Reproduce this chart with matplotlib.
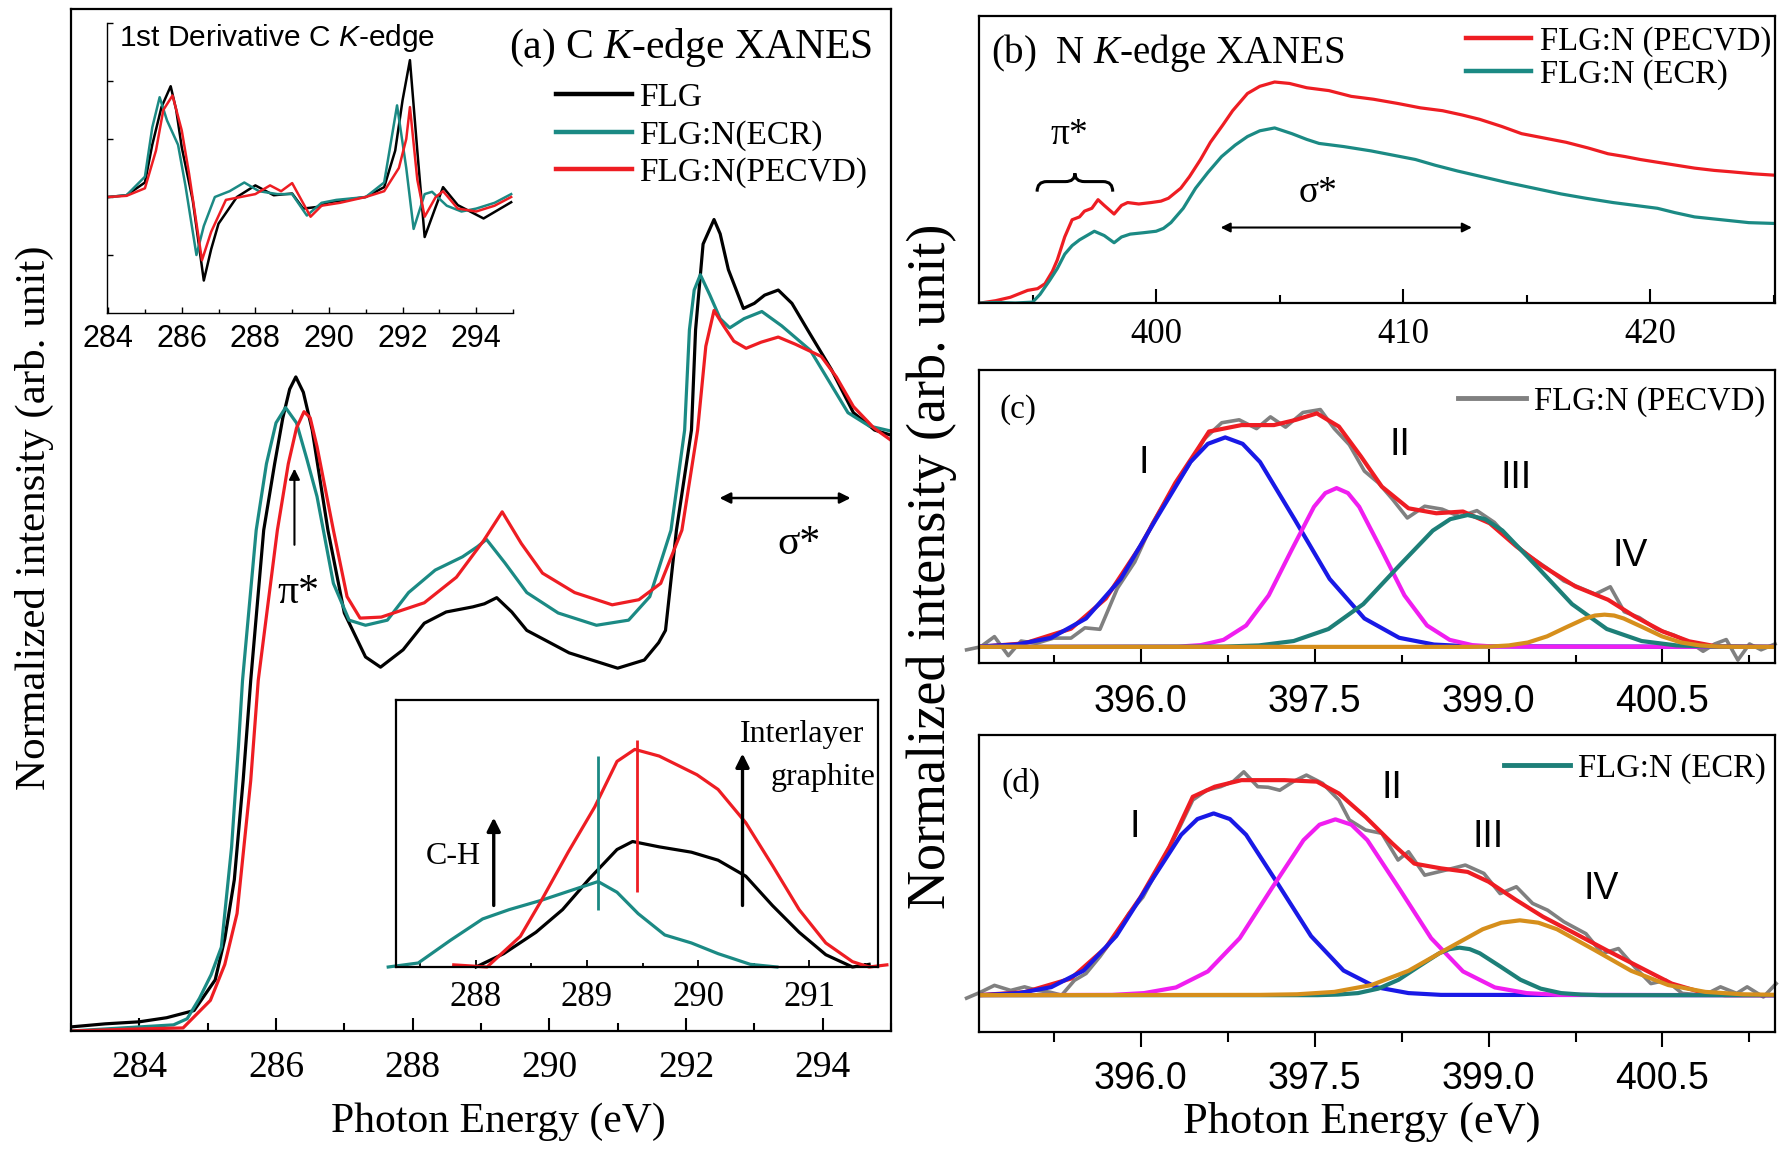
import matplotlib
matplotlib.use("Agg")
import matplotlib.pyplot as plt
from matplotlib.path import Path
from matplotlib.patches import PathPatch
from matplotlib.ticker import MultipleLocator, FormatStrFormatter

plt.rcParams['font.family'] = ['Liberation Serif', 'DejaVu Serif']
plt.rcParams['mathtext.fontset'] = 'custom'
plt.rcParams['mathtext.rm'] = 'Liberation Serif'
plt.rcParams['mathtext.it'] = 'Liberation Serif:italic'
plt.rcParams['mathtext.sf'] = 'Liberation Sans:italic'
plt.rcParams['axes.linewidth'] = 1.6

SANS = 'Liberation Sans'
BLACK, TEAL, RED = '#000000', '#1b8a84', '#ee1d23'
BLUE, MAGENTA, TEAL2, ORANGE, GRAY = '#1919e6', '#f01ef0', '#1d7f78', '#d68f1c', '#808080'

# ---------------- (a) C K-edge XANES ----------------
flg_x = [283.0, 283.5, 284.0, 284.4, 284.8, 285.11, 285.25, 285.39, 285.52, 285.63, 285.82, 285.98,
         286.1, 286.2, 286.29, 286.4, 286.53, 286.76, 287.0, 287.31, 287.53, 287.86, 288.17, 288.49,
         288.88, 289.05, 289.23, 289.45, 289.67, 290.29, 291.0, 291.39, 291.6, 291.7, 291.86, 292.08,
         292.14, 292.25, 292.41, 292.5, 292.62, 292.84, 293.0, 293.15, 293.35, 293.55, 293.78, 294.13,
         294.45, 294.76, 295.0]
flg_y = [0.004, 0.007, 0.009, 0.013, 0.02, 0.05, 0.09, 0.148, 0.246, 0.343, 0.49, 0.555,
         0.6, 0.628, 0.64, 0.625, 0.588, 0.49, 0.409, 0.366, 0.356, 0.373, 0.399, 0.41,
         0.415, 0.418, 0.424, 0.41, 0.392, 0.37, 0.355, 0.363, 0.38, 0.392, 0.49, 0.588,
         0.686, 0.77, 0.794, 0.78, 0.745, 0.707, 0.712, 0.72, 0.725, 0.712, 0.686, 0.647,
         0.605, 0.588, 0.583]
ecr_x = [283.0, 283.5, 284.0, 284.5, 284.7, 284.88, 285.05, 285.2, 285.35, 285.45, 285.51, 285.71,
         285.86, 286.0, 286.14, 286.3, 286.45, 286.6, 286.84, 287.07, 287.31, 287.63, 287.94, 288.33,
         288.73, 288.95, 289.08, 289.35, 289.67, 290.13, 290.69, 291.16, 291.47, 291.78, 291.98, 292.05,
         292.12, 292.21, 292.35, 292.5, 292.64, 292.85, 293.11, 293.4, 293.82, 294.1, 294.37, 294.68,
         295.0]
ecr_y = [0.0, 0.002, 0.004, 0.006, 0.012, 0.032, 0.055, 0.082, 0.18, 0.278, 0.343, 0.49,
         0.555, 0.595, 0.61, 0.595, 0.56, 0.523, 0.438, 0.402, 0.397, 0.402, 0.429, 0.451,
         0.464, 0.474, 0.481, 0.458, 0.429, 0.409, 0.397, 0.402, 0.425, 0.49, 0.588, 0.686,
         0.725, 0.74, 0.72, 0.697, 0.688, 0.697, 0.704, 0.69, 0.666, 0.635, 0.605, 0.592,
         0.587]
pec_x = [283.0, 283.5, 284.0, 284.64, 285.04, 285.25, 285.43, 285.63, 285.74, 286.02, 286.18, 286.3,
         286.41, 286.5, 286.6, 286.84, 287.04, 287.23, 287.54, 288.17, 288.64, 289.04, 289.31, 289.59,
         289.9, 290.37, 290.92, 291.31, 291.63, 291.94, 292.17, 292.29, 292.41, 292.55, 292.7, 292.88,
         293.1, 293.35, 293.6, 293.98, 294.2, 294.45, 294.75, 295.0]
pec_y = [0.0, 0.001, 0.002, 0.003, 0.03, 0.065, 0.115, 0.245, 0.343, 0.49, 0.555, 0.59,
         0.606, 0.6, 0.572, 0.49, 0.425, 0.404, 0.405, 0.419, 0.444, 0.48, 0.508, 0.477,
         0.448, 0.429, 0.417, 0.422, 0.438, 0.49, 0.588, 0.67, 0.705, 0.69, 0.675, 0.668,
         0.674, 0.679, 0.672, 0.66, 0.64, 0.611, 0.59, 0.578]

# 1st derivative inset
d_flg_x = [284.0, 284.5, 285.0, 285.2, 285.45, 285.7, 285.85, 286.0, 286.3, 286.6, 286.8, 287.0,
           287.5, 288.0, 288.5, 289.0, 289.3, 289.7, 290.0, 291.0, 291.5, 291.8, 292.0, 292.2,
           292.4, 292.6, 292.9, 293.1, 293.5, 294.2, 294.95]
d_flg_y = [0.0, 0.03, 0.25, 0.9, 1.55, 1.91, 1.5, 0.86, -0.06, -1.44, -0.9, -0.46,
           0.0, 0.2, 0.03, 0.06, -0.2, -0.17, -0.09, 0.0, 0.17, 0.8, 1.67, 2.36,
           0.8, -0.69, -0.17, 0.17, -0.14, -0.37, -0.09]
d_ecr_x = [284.0, 284.5, 285.0, 285.2, 285.4, 285.6, 285.9, 286.1, 286.4, 286.6, 286.9, 287.3,
           287.7, 288.1, 288.6, 289.0, 289.4, 289.8, 290.2, 291.0, 291.5, 291.85, 292.1, 292.3,
           292.6, 292.8, 293.2, 293.6, 294.0, 294.5, 294.95]
d_ecr_y = [0.0, 0.03, 0.35, 1.2, 1.72, 1.32, 0.9, 0.2, -1.0, -0.5, 0.0, 0.1,
           0.25, 0.1, 0.05, 0.05, -0.32, -0.1, -0.05, 0.0, 0.25, 1.58, 0.5, -0.55,
           0.05, 0.09, -0.15, -0.25, -0.2, -0.1, 0.05]
d_pec_x = [284.0, 284.5, 285.0, 285.3, 285.5, 285.75, 286.0, 286.2, 286.55, 286.8, 287.2, 287.6,
           288.0, 288.4, 288.7, 289.0, 289.5, 289.8, 290.3, 291.0, 291.5, 291.9, 292.1, 292.2,
           292.4, 292.6, 292.9, 293.1, 293.5, 294.0, 294.5, 294.95]
d_pec_y = [0.0, 0.02, 0.15, 0.8, 1.5, 1.75, 1.15, 0.4, -1.09, -0.6, -0.05, 0.0,
           0.05, 0.2, 0.1, 0.24, -0.34, -0.15, -0.1, 0.0, 0.1, 0.5, 1.0, 1.55,
           0.3, -0.34, 0.0, 0.1, -0.2, -0.25, -0.15, 0.0]

# sigma* region inset
i_pec_x = [287.8, 288.1, 288.4, 288.59, 288.83, 289.07, 289.27, 289.43, 289.65, 289.99, 290.18, 290.43,
           290.67, 290.91, 291.15, 291.39, 291.54, 291.7]
i_pec_y = [0.008, 0.0, 0.115, 0.25, 0.43, 0.6, 0.77, 0.815, 0.79, 0.72, 0.665, 0.54,
           0.38, 0.215, 0.09, 0.02, 0.0, 0.008]
i_flg_x = [288.0, 288.25, 288.54, 288.78, 289.02, 289.27, 289.41, 289.65, 289.94, 290.18, 290.43, 290.67,
           290.91, 291.15, 291.39, 291.54]
i_flg_y = [0.0, 0.05, 0.13, 0.215, 0.33, 0.44, 0.47, 0.45, 0.43, 0.4, 0.34, 0.23,
           0.13, 0.046, 0.0, 0.01]
i_ecr_x = [287.21, 287.48, 287.77, 288.06, 288.3, 288.59, 288.88, 289.1, 289.27, 289.46, 289.7, 289.94,
           290.18, 290.47, 290.71]
i_ecr_y = [0.0, 0.015, 0.1, 0.18, 0.215, 0.25, 0.29, 0.32, 0.28, 0.2, 0.12, 0.09,
           0.05, 0.01, 0.0]

# ---------------- (b) N K-edge XANES ----------------
n_pec_x = [392.9, 393.5, 394.1, 394.8, 395.2, 395.5, 395.8, 396.0, 396.3, 396.6, 396.9, 397.1,
           397.4, 397.65, 397.9, 398.3, 398.6, 398.85, 399.3, 399.8, 400.2, 400.5, 401.0, 401.35,
           401.8, 402.2, 402.7, 403.1, 403.7, 404.2, 404.8, 405.4, 406.1, 407.0, 407.9, 408.8,
           409.8, 410.7, 411.6, 412.4, 413.1, 414.0, 414.8, 415.7, 416.6, 417.5, 418.3, 419.0,
           419.6, 420.7, 421.8, 422.6, 423.3, 424.2, 425.1]
n_pec_y = [0.0, 0.008, 0.02, 0.044, 0.05, 0.067, 0.11, 0.15, 0.23, 0.29, 0.30, 0.32,
           0.33, 0.36, 0.34, 0.31, 0.34, 0.35, 0.345, 0.35, 0.355, 0.365, 0.40, 0.44,
           0.50, 0.56, 0.62, 0.67, 0.73, 0.755, 0.77, 0.765, 0.75, 0.74, 0.72, 0.71,
           0.695, 0.68, 0.67, 0.655, 0.64, 0.615, 0.59, 0.575, 0.56, 0.54, 0.52, 0.51,
           0.50, 0.485, 0.47, 0.462, 0.457, 0.45, 0.445]
n_ecr_x = [392.9, 393.5, 394.3, 395.0, 395.3, 395.7, 396.0, 396.3, 396.6, 396.9, 397.2, 397.5,
           397.9, 398.3, 398.6, 398.95, 399.5, 400.0, 400.3, 400.6, 401.1, 401.6, 402.1, 402.65,
           403.2, 403.7, 404.2, 404.8, 405.5, 406.1, 406.6, 407.6, 408.7, 409.6, 410.5, 411.3,
           412.2, 413.2, 414.2, 415.3, 416.4, 417.4, 418.5, 419.4, 420.3, 421.0, 421.8, 422.9,
           424.0, 425.1]
n_ecr_y = [0.0, 0.002, 0.0, 0.003, 0.03, 0.08, 0.12, 0.17, 0.2, 0.22, 0.235, 0.25,
           0.235, 0.21, 0.23, 0.24, 0.245, 0.25, 0.26, 0.28, 0.33, 0.40, 0.455, 0.51,
           0.55, 0.58, 0.6, 0.61, 0.59, 0.57, 0.556, 0.545, 0.53, 0.515, 0.50, 0.48,
           0.46, 0.44, 0.42, 0.40, 0.38, 0.365, 0.35, 0.34, 0.33, 0.315, 0.30, 0.29,
           0.28, 0.277]

# ---------------- (c) FLG:N (PECVD) fit ----------------
c_dat_x = [394.5, 394.62, 394.74, 394.86, 394.97, 395.1, 395.25, 395.4, 395.52, 395.65, 395.8, 395.95,
           396.1, 396.25, 396.4, 396.55, 396.7, 396.85, 397.0, 397.12, 397.25, 397.4, 397.55, 397.67,
           397.8, 397.93, 398.05, 398.17, 398.3, 398.45, 398.6, 398.75, 398.9, 399.05, 399.2, 399.35,
           399.5, 399.65, 399.8, 399.92, 400.05, 400.17, 400.3, 400.45, 400.6, 400.75, 400.85, 400.95,
           401.05, 401.15, 401.25, 401.35, 401.47]
c_dat_y = [-0.01, 0.0, 0.035, -0.03, 0.02, 0.012, 0.03, 0.03, 0.065, 0.06, 0.2, 0.29,
           0.42, 0.52, 0.61, 0.71, 0.765, 0.775, 0.745, 0.785, 0.75, 0.8, 0.81, 0.745,
           0.69, 0.6, 0.56, 0.505, 0.44, 0.48, 0.47, 0.445, 0.465, 0.425, 0.36, 0.31,
           0.27, 0.225, 0.2, 0.18, 0.205, 0.12, 0.1, 0.06, 0.04, 0.012, -0.015, 0.01,
           0.025, -0.045, 0.01, -0.01, 0.01]
c_sum_x = [394.6, 395.0, 395.4, 395.7, 396.0, 396.3, 396.5, 396.59, 396.87, 397.15, 397.34, 397.52,
           397.71, 397.9, 398.08, 398.31, 398.55, 398.78, 399.01, 399.24, 399.47, 399.75, 400.03, 400.26,
           400.5, 400.73, 400.96, 401.47]
c_sum_y = [0.0, 0.012, 0.062, 0.165, 0.345, 0.56, 0.68, 0.735, 0.757, 0.757, 0.775, 0.797,
           0.752, 0.65, 0.547, 0.473, 0.456, 0.462, 0.422, 0.343, 0.275, 0.206, 0.161, 0.104,
           0.053, 0.019, 0.002, 0.0]
c1_x = [394.55, 394.63, 394.93, 395.23, 395.53, 395.83, 396.13, 396.43, 396.58, 396.73, 396.88, 397.03,
        397.33, 397.63, 397.93, 398.23, 398.53, 398.83, 401.5]
c1_y = [0.0, 0.002, 0.008, 0.031, 0.097, 0.232, 0.434, 0.631, 0.693, 0.715, 0.693, 0.631,
        0.434, 0.232, 0.097, 0.031, 0.008, 0.002, 0.0]
c2_x = [394.55, 396.325, 396.52, 396.715, 396.91, 397.105, 397.30, 397.495, 397.593, 397.69, 397.788, 397.885,
        398.08, 398.275, 398.47, 398.665, 398.86, 399.055, 401.5]
c2_y = [0.0, 0.001, 0.006, 0.024, 0.073, 0.176, 0.329, 0.478, 0.525, 0.542, 0.525, 0.478,
        0.329, 0.176, 0.073, 0.024, 0.006, 0.001, 0.0]
c3_x = [394.55, 396.72, 397.02, 397.32, 397.62, 397.92, 398.22, 398.52, 398.67, 398.82, 398.97, 399.12,
        399.42, 399.72, 400.02, 400.32, 400.62, 400.92, 401.5]
c3_y = [0.0, 0.001, 0.005, 0.02, 0.061, 0.146, 0.273, 0.397, 0.436, 0.45, 0.436, 0.397,
        0.273, 0.146, 0.061, 0.02, 0.005, 0.001, 0.0]
c4_x = [394.55, 398.845, 399.01, 399.175, 399.34, 399.505, 399.67, 399.835, 399.918, 400.0, 400.083, 400.165,
        400.33, 400.495, 400.66, 400.825, 400.99, 401.155, 401.5]
c4_y = [0.0, 0.0, 0.001, 0.005, 0.015, 0.036, 0.067, 0.097, 0.107, 0.11, 0.107, 0.097,
        0.067, 0.036, 0.015, 0.005, 0.001, 0.0, 0.0]

# ---------------- (d) FLG:N (ECR) fit ----------------
d_dat_x = [394.5, 394.62, 394.74, 394.88, 395.0, 395.11, 395.22, 395.32, 395.43, 395.53, 395.65, 395.78,
           395.9, 396.02, 396.13, 396.22, 396.33, 396.45, 396.57, 396.69, 396.8, 396.89, 397.01, 397.1,
           397.2, 397.32, 397.43, 397.57, 397.71, 397.8, 397.94, 398.08, 398.22, 398.31, 398.45, 398.63,
           398.8, 398.96, 399.1, 399.24, 399.38, 399.51, 399.65, 399.84, 399.98, 400.12, 400.26, 400.4,
           400.53, 400.67, 400.86, 401.0, 401.14, 401.23, 401.37, 401.48]
d_dat_y = [-0.01, 0.01, 0.033, 0.016, 0.028, 0.016, 0.01, 0.0, 0.05, 0.073, 0.13, 0.2,
           0.275, 0.33, 0.41, 0.477, 0.56, 0.657, 0.69, 0.702, 0.72, 0.752, 0.702, 0.7,
           0.69, 0.72, 0.741, 0.713, 0.657, 0.59, 0.556, 0.545, 0.455, 0.483, 0.404, 0.421,
           0.438, 0.41, 0.342, 0.365, 0.309, 0.286, 0.247, 0.207, 0.14, 0.157, 0.095, 0.039,
           0.05, 0.006, 0.0, 0.028, 0.006, 0.028, -0.006, 0.039]
d_sum_x = [394.6, 395.0, 395.4, 395.7, 396.0, 396.25, 396.45, 396.64, 396.87, 397.24, 397.52, 397.71,
           397.94, 398.17, 398.36, 398.59, 398.82, 399.0, 399.24, 399.47, 399.75, 400.02, 400.3, 400.58,
           400.86, 401.04, 401.47]
d_sum_y = [0.0, 0.01, 0.056, 0.16, 0.33, 0.5, 0.668, 0.702, 0.724, 0.724, 0.719, 0.679,
           0.6, 0.511, 0.443, 0.427, 0.415, 0.382, 0.32, 0.264, 0.207, 0.151, 0.095, 0.039,
           0.007, 0.0, 0.0]
d1_x = [394.55, 394.67, 394.95, 395.23, 395.51, 395.79, 396.07, 396.35, 396.49, 396.63, 396.77, 396.91,
        397.19, 397.47, 397.75, 398.03, 398.31, 398.59, 401.5]
d1_y = [0.0, 0.001, 0.007, 0.027, 0.083, 0.199, 0.371, 0.54, 0.593, 0.612, 0.593, 0.54,
        0.371, 0.199, 0.083, 0.027, 0.007, 0.001, 0.0]
d2_x = [394.55, 395.755, 396.03, 396.305, 396.58, 396.855, 397.13, 397.405, 397.543, 397.68, 397.818, 397.955,
        398.23, 398.505, 398.78, 399.055, 399.33, 399.605, 401.5]
d2_y = [0.0, 0.001, 0.007, 0.026, 0.08, 0.192, 0.359, 0.522, 0.574, 0.592, 0.574, 0.522,
        0.359, 0.192, 0.08, 0.026, 0.007, 0.001, 0.0]
d3_x = [394.55, 397.525, 397.70, 397.875, 398.05, 398.225, 398.40, 398.575, 398.663, 398.75, 398.838, 398.925,
        399.10, 399.275, 399.45, 399.625, 399.80, 399.975, 401.5]
d3_y = [0.0, 0.0, 0.002, 0.007, 0.022, 0.052, 0.097, 0.141, 0.155, 0.16, 0.155, 0.141,
        0.097, 0.052, 0.022, 0.007, 0.002, 0.0, 0.0]
d4_x = [394.55, 397.03, 397.35, 397.67, 397.99, 398.31, 398.63, 398.95, 399.11, 399.27, 399.43, 399.59,
        399.91, 400.23, 400.55, 400.87, 401.19, 401.51]
d4_y = [0.0, 0.001, 0.003, 0.011, 0.034, 0.082, 0.153, 0.222, 0.244, 0.252, 0.244, 0.222,
        0.153, 0.082, 0.034, 0.011, 0.003, 0.001]

W, H = 1786, 1152
fig = plt.figure(figsize=(W / 100, H / 100), dpi=100)


def box(l, t, r, b):
    return [l / W, 1 - b / H, (r - l) / W, (b - t) / H]


# ---- panel (a)
ax = fig.add_axes(box(71, 9, 891, 1031))
ax.plot(flg_x, flg_y, color=BLACK, lw=2.3, label='FLG')
ax.plot(ecr_x, ecr_y, color=TEAL, lw=2.3, label='FLG:N(ECR)')
ax.plot(pec_x, pec_y, color=RED, lw=2.3, label='FLG:N(PECVD)')
ax.set_xlim(283, 295)
ax.set_ylim(0, 1)
ax.set_yticks([])
ax.xaxis.set_major_locator(MultipleLocator(2))
ax.xaxis.set_minor_locator(MultipleLocator(1))
ax.tick_params(axis='x', which='major', direction='in', length=9.5, width=1.5, labelsize=27, pad=14)
ax.tick_params(axis='x', which='minor', direction='in', length=6, width=1.5)
leg = ax.legend(loc='upper left', bbox_to_anchor=(0.591, 0.928), frameon=False, fontsize=24,
                handlelength=2.3, handletextpad=0.2, labelspacing=0.2, borderpad=0, borderaxespad=0)
for ln in leg.get_lines():
    ln.set_linewidth(3.2)
ax.text(0.534, 0.962, '(a) C $\\mathit{K}$-edge XANES', transform=ax.transAxes, fontsize=30,
        ha='left', va='center')
ax.annotate('', xy=(286.27, 0.553), xytext=(286.27, 0.473),
            arrowprops=dict(arrowstyle='-|>', color='k', lw=1.5, mutation_scale=16))
ax.text(286.33, 0.429, 'π*', fontsize=30, ha='center', va='center')
ax.annotate('', xy=(294.45, 0.5215), xytext=(292.45, 0.5215),
            arrowprops=dict(arrowstyle='<|-|>', color='k', lw=1.8, mutation_scale=16))
ax.text(293.66, 0.477, 'σ*', fontsize=30, ha='center', va='center')

# ---- 1st derivative inset
ax1 = fig.add_axes(box(107, 23, 513, 313))
ax1.patch.set_alpha(0)
ax1.plot(d_flg_x, d_flg_y, color=BLACK, lw=1.8)
ax1.plot(d_ecr_x, d_ecr_y, color=TEAL, lw=1.8)
ax1.plot(d_pec_x, d_pec_y, color=RED, lw=1.8)
ax1.set_xlim(283.97, 295.0)
ax1.set_ylim(-2, 3)
ax1.spines['top'].set_visible(False)
ax1.spines['right'].set_visible(False)
ax1.spines['left'].set_linewidth(1.0)
ax1.spines['bottom'].set_linewidth(1.0)
ax1.set_yticks([-1, 0, 1, 2, 3])
ax1.set_yticklabels([])
ax1.xaxis.set_major_locator(MultipleLocator(2))
ax1.xaxis.set_minor_locator(MultipleLocator(1))
ax1.tick_params(axis='both', which='major', direction='in', length=4, width=1.0, labelsize=22,
                pad=8, labelfontfamily=SANS)
ax1.tick_params(axis='x', which='minor', direction='in', length=3, width=1.0)
ax1.text(0.03, 0.948, '1st Derivative C $\\mathsf{K}$-edge', transform=ax1.transAxes, fontsize=21.5,
         family=SANS, ha='left', va='center')

# ---- sigma* inset
ax2 = fig.add_axes(box(396, 700, 878, 967))
ax2.plot(i_flg_x, i_flg_y, color=BLACK, lw=2.3, clip_on=False)
ax2.plot(i_ecr_x, i_ecr_y, color=TEAL, lw=2.3, clip_on=False)
ax2.plot(i_pec_x, i_pec_y, color=RED, lw=2.3, clip_on=False)
ax2.vlines([289.1], 0.215, 0.79, color=TEAL, lw=2.0)
ax2.vlines([289.45], 0.28, 0.85, color=RED, lw=2.0)
ax2.set_xlim(287.28, 291.62)
ax2.set_ylim(0, 1)
ax2.set_yticks([])
ax2.xaxis.set_major_locator(MultipleLocator(1))
ax2.xaxis.set_minor_locator(MultipleLocator(0.5))
ax2.tick_params(axis='x', which='major', direction='in', length=5, width=1.3, labelsize=25, pad=10)
ax2.tick_params(axis='x', which='minor', direction='in', length=3, width=1.3)
ax2.annotate('', xy=(288.16, 0.57), xytext=(288.16, 0.22),
             arrowprops=dict(arrowstyle='-|>', color='k', lw=2.4, mutation_scale=20))
ax2.text(287.8, 0.415, 'C-H', fontsize=23, ha='center', va='center')
ax2.annotate('', xy=(290.4, 0.81), xytext=(290.4, 0.22),
             arrowprops=dict(arrowstyle='-|>', color='k', lw=2.4, mutation_scale=20))
ax2.text(291.5, 0.87, 'Interlayer', fontsize=23, ha='right', va='center')
ax2.text(291.6, 0.71, 'graphite', fontsize=23, ha='right', va='center')

# ---- panel (b)
axb = fig.add_axes(box(979, 16, 1775, 303))
axb.plot(n_pec_x, n_pec_y, color=RED, lw=2.3, label='FLG:N (PECVD)')
axb.plot(n_ecr_x, n_ecr_y, color=TEAL, lw=2.3, label='FLG:N (ECR)')
axb.set_xlim(392.83, 425.06)
axb.set_ylim(0, 1)
axb.set_yticks([])
axb.xaxis.set_major_locator(MultipleLocator(10))
axb.xaxis.set_minor_locator(MultipleLocator(5))
axb.tick_params(axis='x', which='major', direction='in', length=10, width=1.5, labelsize=25, pad=11)
axb.tick_params(axis='x', which='minor', direction='in', length=6, width=1.5)
leg = axb.legend(loc='upper left', bbox_to_anchor=(0.612, 0.964), frameon=False, fontsize=23.5,
                 handlelength=2.0, handletextpad=0.25, labelspacing=0.05, borderpad=0, borderaxespad=0)
for ln in leg.get_lines():
    ln.set_linewidth(3.2)
axb.text(0.015, 0.871, '(b)  N $\\mathit{K}$-edge XANES', transform=axb.transAxes, fontsize=28,
         ha='left', va='center')
axb.text(0.114, 0.585, 'π*', transform=axb.transAxes, fontsize=27, ha='center', va='center')
axb.text(0.426, 0.383, 'σ*', transform=axb.transAxes, fontsize=27, ha='center', va='center')
axb.annotate('', xy=(412.9, 0.263), xytext=(402.5, 0.263),
             arrowprops=dict(arrowstyle='<|-|>', color='k', lw=1.5, mutation_scale=14))
# curly brace over the pi* feature
bx0, bx1, by0, bym, byt = 0.073, 0.168, 0.388, 0.423, 0.452
bxc = (bx0 + bx1) / 2
q = 0.012
verts = [(bx0, by0), (bx0, bym), (bx0 + q, bym), (bxc - q, bym), (bxc, bym), (bxc, byt),
         (bxc, bym), (bxc + q, bym), (bx1 - q, bym), (bx1, bym), (bx1, by0)]
codes = [Path.MOVETO, Path.CURVE3, Path.CURVE3, Path.LINETO, Path.CURVE3, Path.CURVE3,
         Path.CURVE3, Path.CURVE3, Path.LINETO, Path.CURVE3, Path.CURVE3]
axb.add_patch(PathPatch(Path(verts, codes), transform=axb.transAxes, fill=False, lw=2.2, color='k'))


# ---- panels (c) and (d)
def fit_panel(a, dat, summ, comps, ylo, tickdir, legend_label, legend_color, leg_xy, leg_hl):
    a.plot(dat[0], dat[1], color=GRAY, lw=2.6, clip_on=False)
    a.plot(summ[0], summ[1], color=RED, lw=3.0)
    for (cx, cy), col in zip(comps, [BLUE, MAGENTA, TEAL2, ORANGE]):
        a.plot(cx, cy, color=col, lw=3.0)
    a.set_xlim(394.607, 401.47)
    a.set_ylim(ylo, 1 + ylo)
    a.set_yticks([])
    a.xaxis.set_major_locator(MultipleLocator(1.5))
    a.xaxis.set_minor_locator(MultipleLocator(0.75))
    a.xaxis.set_major_formatter(FormatStrFormatter('%.1f'))
    if tickdir == 'in':
        a.tick_params(axis='x', which='major', direction='in', length=10, width=1.5, labelsize=27,
                      pad=15, labelfontfamily=SANS)
        a.tick_params(axis='x', which='minor', direction='in', length=5.5, width=1.5)
    else:
        a.tick_params(axis='x', which='major', direction='out', length=11, width=1.5, labelsize=27,
                      pad=10, labelfontfamily=SANS)
        a.tick_params(axis='x', which='minor', direction='out', length=7, width=1.5)
    h, = a.plot([], [], color=legend_color, lw=3.5, label=legend_label)
    a.legend(handles=[h], loc='upper left', bbox_to_anchor=leg_xy, frameon=False, fontsize=23.5,
             handlelength=leg_hl, handletextpad=0.25, borderpad=0, borderaxespad=0)


axc = fig.add_axes(box(979, 370, 1775, 663))
fit_panel(axc, (c_dat_x, c_dat_y), (c_sum_x, c_sum_y),
          [(c1_x, c1_y), (c2_x, c2_y), (c3_x, c3_y), (c4_x, c4_y)], -0.055, 'in',
          'FLG:N (PECVD)', GRAY, (0.602, 0.945), 2.08)
axc.text(0.049, 0.864, '(c)', transform=axc.transAxes, fontsize=24, ha='center', va='center')
for s, xx, yy in [('I', 396.03, 0.627), ('II', 398.24, 0.689), ('III', 399.24, 0.576), ('IV', 400.22, 0.309)]:
    axc.text(xx, yy, s, fontsize=27, family=SANS, ha='center', va='center')

axd = fig.add_axes(box(979, 735, 1775, 1032))
fit_panel(axd, (d_dat_x, d_dat_y), (d_sum_x, d_sum_y),
          [(d1_x, d1_y), (d2_x, d2_y), (d3_x, d3_y), (d4_x, d4_y)], -0.124, 'out',
          'FLG:N (ECR)', TEAL2, (0.66, 0.94), 2.0)
axd.text(0.053, 0.837, '(d)', transform=axd.transAxes, fontsize=24, ha='center', va='center')
for s, xx, yy in [('I', 395.95, 0.567), ('II', 398.17, 0.696), ('III', 399.0, 0.533), ('IV', 399.97, 0.359)]:
    axd.text(xx, yy, s, fontsize=27, family=SANS, ha='center', va='center')

# ---- axis titles
fig.text(34 / W, 1 - 518 / H, 'Normalized intensity (arb. unit)', rotation=90, fontsize=31,
         ha='center', va='center')
fig.text(498 / W, 1 - 1122 / H, 'Photon Energy (eV)', fontsize=30, ha='center', va='center')
fig.text(932 / W, 1 - 566 / H, 'Normalized intensity (arb. unit)', rotation=90, fontsize=39,
         ha='center', va='center')
fig.text(1362 / W, 1 - 1122 / H, 'Photon Energy (eV)', fontsize=32, ha='center', va='center')

fig.savefig('out.png', dpi=100)
